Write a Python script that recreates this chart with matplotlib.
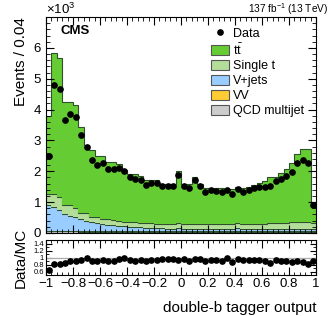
import numpy as np
import matplotlib
matplotlib.use("Agg")
import matplotlib.pyplot as plt
from matplotlib.ticker import MultipleLocator
from matplotlib.lines import Line2D
from matplotlib.patches import Patch

plt.rcParams['font.family'] = ['Liberation Sans', 'DejaVu Sans']
plt.rcParams['mathtext.fontset'] = 'custom'
plt.rcParams['mathtext.rm'] = 'Liberation Sans'
plt.rcParams['mathtext.it'] = 'Liberation Sans:italic'
plt.rcParams['mathtext.bf'] = 'Liberation Sans:bold'

# bin edges: 50 bins of width 0.04 from -1 to 1
bin_edges = np.linspace(-1.0, 1.0, 51)

# values in units of 10^3 events
data = [2.48, 4.80, 4.67, 3.65, 3.86, 3.77, 3.17, 2.80, 2.38, 2.22,
        2.28, 2.09, 2.09, 2.11, 2.00, 1.80, 1.75, 1.71, 1.56, 1.63,
        1.61, 1.52, 1.52, 1.52, 1.88, 1.52, 1.46, 1.73, 1.52, 1.34,
        1.38, 1.36, 1.33, 1.38, 1.27, 1.43, 1.33, 1.39, 1.46, 1.50,
        1.50, 1.53, 1.68, 1.74, 1.85, 1.97, 2.28, 2.37, 2.26, 0.90]

qcd = [0.05] * 6 + [0.04] * 44
vv = [0.01] * 50
vjets = [0.86, 0.79, 0.67, 0.56, 0.50, 0.46, 0.40, 0.35, 0.30, 0.27,
         0.25, 0.22, 0.20, 0.19, 0.17, 0.15, 0.14, 0.13, 0.12, 0.11,
         0.10, 0.10, 0.09, 0.09, 0.10, 0.09, 0.09, 0.09, 0.08, 0.08,
         0.08, 0.08, 0.08, 0.08, 0.08, 0.10, 0.08, 0.08, 0.07, 0.07,
         0.07, 0.07, 0.07, 0.07, 0.07, 0.07, 0.07, 0.07, 0.07, 0.07]
singlet = [0.36, 0.43, 0.44, 0.30, 0.34, 0.28, 0.21, 0.24, 0.18, 0.19,
           0.16, 0.17, 0.17, 0.14, 0.14, 0.15, 0.15, 0.15, 0.15, 0.15,
           0.15, 0.14, 0.15, 0.15, 0.16, 0.15, 0.15, 0.16, 0.16, 0.15,
           0.15, 0.15, 0.15, 0.15, 0.15, 0.16, 0.16, 0.16, 0.18, 0.18,
           0.18, 0.19, 0.19, 0.20, 0.21, 0.22, 0.23, 0.23, 0.23, 0.21]
ttbar = [2.50, 4.57, 4.50, 3.34, 3.36, 3.35, 2.79, 2.21, 2.15, 1.97,
         2.02, 1.87, 1.89, 1.85, 1.69, 1.57, 1.58, 1.51, 1.39, 1.42,
         1.43, 1.31, 1.31, 1.31, 1.69, 1.31, 1.31, 1.52, 1.29, 1.19,
         1.19, 1.18, 1.18, 1.14, 1.16, 1.19, 1.16, 1.19, 1.25, 1.32,
         1.38, 1.49, 1.49, 1.61, 1.75, 1.93, 2.22, 2.38, 2.38, 0.68]

labels = ['QCD multijet', 'VV', 'V+jets', 'Single t', r'$\mathrm{t\bar{t}}$']
colors = ['#cccccc', '#ffcc33', '#99ccff', '#b3dd99', '#66cc33']
components = [qcd, vv, vjets, singlet, ttbar]

fig = plt.figure(figsize=(3.32, 3.16), dpi=100)
ax = fig.add_axes([0.1386, 0.2627, 0.8134, 0.6833])
axr = fig.add_axes([0.1386, 0.1297, 0.8134, 0.1108])

centers = 0.5 * (bin_edges[:-1] + bin_edges[1:])
base = np.zeros(50)
for comp, col in zip(components, colors):
    top = base + np.array(comp)
    ax.stairs(top, bin_edges, baseline=base, fill=True, facecolor=col,
              edgecolor='none')
    ax.stairs(top, bin_edges, baseline=None, color='#2f4f2f', lw=0.8)
    base = top
total = base

ax.plot(centers, data, 'o', color='black', ms=3.8, zorder=5)

ax.set_xlim(-1, 1)
ax.set_ylim(0, 7)
ax.set_yticks([0, 1, 2, 3, 4, 5, 6])
ax.yaxis.set_minor_locator(MultipleLocator(0.2))
ax.xaxis.set_major_locator(MultipleLocator(0.2))
ax.xaxis.set_minor_locator(MultipleLocator(0.04))
ax.tick_params(which='both', direction='in', top=True, right=True, labelbottom=False)
ax.tick_params(which='major', length=6, width=0.8, labelsize=9.5)
ax.tick_params(which='minor', length=3, width=0.6)
ax.set_ylabel('Events / 0.04', fontsize=11, loc='top')

ax.text(0.0, 1.0, r'$\times$10$^{3}$', transform=ax.transAxes, fontsize=9.5,
        ha='left', va='bottom')
fig.text(328 / 332, 1 - 9 / 316, r'137 fb$^{\mathregular{-1}}$ (13 TeV)', fontsize=7.3,
         ha='right', va='center')
ax.text(0.055, 0.935, 'CMS', transform=ax.transAxes, fontsize=9.5,
        fontweight='bold', ha='left', va='center')

handles = [Line2D([], [], marker='o', color='black', ls='none', ms=3.8)]
for lab, col in zip(labels[::-1], colors[::-1]):
    handles.append(Patch(facecolor=col, edgecolor='#555555', lw=0.8))
leg_labels = ['Data', r'$\mathrm{t\bar{t}}$', 'Single t', 'V+jets', 'VV', 'QCD multijet']
ax.legend(handles, leg_labels, loc='upper right', bbox_to_anchor=(0.975, 0.975),
          frameon=False, fontsize=9, handlelength=1.45, handleheight=0.85,
          handletextpad=0.3, labelspacing=0.2, borderaxespad=0)

# ratio
ratio = np.array(data) / total
axr.axhline(1.0, color='#aaaaaa', lw=0.9)
axr.plot(centers, ratio, 'o', color='black', ms=3.8)
axr.set_xlim(-1, 1)
axr.set_ylim(0.5, 1.5)
axr.set_yticks([0.6, 0.8, 1.0, 1.2, 1.4])
axr.set_yticklabels(['0.6', '0.8', '1', '1.2', '1.4'])
axr.yaxis.set_minor_locator(MultipleLocator(0.1))
axr.xaxis.set_major_locator(MultipleLocator(0.2))
axr.xaxis.set_minor_locator(MultipleLocator(0.04))
axr.tick_params(which='both', direction='in', top=True, right=True)
axr.tick_params(axis='y', labelsize=5.5, length=4, pad=1.5)
axr.tick_params(axis='x', which='major', length=6, labelsize=9.5, pad=2)
axr.tick_params(which='minor', length=2.5, width=0.6)
axr.xaxis.set_major_formatter(matplotlib.ticker.FuncFormatter(
    lambda v, p: ('%g' % round(v, 2)).replace('-', '\u2212')))
axr.set_ylabel('Data/MC', fontsize=11, labelpad=4)
axr.set_xlabel('double-b tagger output', fontsize=11, loc='right', labelpad=8)

for a in (ax, axr):
    for s in a.spines.values():
        s.set_linewidth(0.8)

fig.savefig('out.png', dpi=100)
